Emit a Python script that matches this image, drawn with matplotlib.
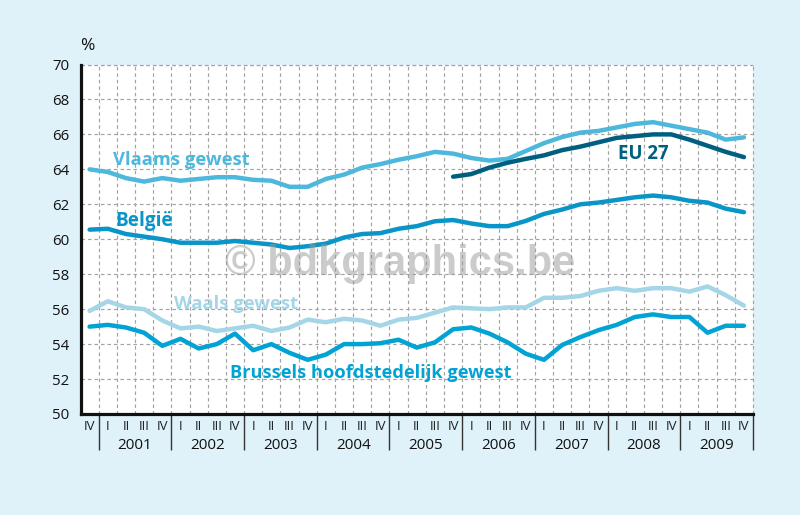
import numpy as np
import matplotlib.pyplot as plt

plt.rcParams['font.family'] = ['Open Sans', 'DejaVu Sans']

quarters = ['IV'] + ['I', 'II', 'III', 'IV'] * 9
years = ['2001', '2002', '2003', '2004', '2005', '2006', '2007', '2008', '2009']

vlaams = [64.0, 63.85, 63.5, 63.3, 63.5, 63.35, 63.45, 63.55, 63.55, 63.4, 63.35, 63.0, 63.0,
          63.45, 63.7, 64.1, 64.3, 64.55, 64.75, 65.0, 64.9, 64.65, 64.5, 64.6, 65.05, 65.5,
          65.85, 66.1, 66.2, 66.4, 66.6, 66.7, 66.5, 66.3, 66.1, 65.7, 65.83]
belgie = [60.55, 60.6, 60.3, 60.15, 60.0, 59.8, 59.8, 59.8, 59.9, 59.8, 59.7, 59.5, 59.6,
          59.75, 60.1, 60.3, 60.35, 60.6, 60.75, 61.03, 61.1, 60.9, 60.75, 60.75, 61.05, 61.45,
          61.7, 62.0, 62.1, 62.25, 62.4, 62.5, 62.4, 62.2, 62.1, 61.75, 61.55]
waals = [55.9, 56.45, 56.1, 56.0, 55.35, 54.9, 55.0, 54.75, 54.9, 55.05, 54.75, 54.95, 55.4,
         55.25, 55.45, 55.35, 55.05, 55.4, 55.5, 55.8, 56.1, 56.05, 56.0, 56.1, 56.1, 56.65,
         56.65, 56.75, 57.05, 57.2, 57.05, 57.2, 57.2, 57.0, 57.3, 56.8, 56.2]
brussel = [55.0, 55.1, 54.95, 54.65, 53.9, 54.3, 53.75, 54.0, 54.6, 53.65, 54.0, 53.5, 53.1,
           53.4, 54.0, 54.0, 54.05, 54.25, 53.8, 54.1, 54.85, 54.95, 54.6, 54.1, 53.45, 53.1,
           53.95, 54.4, 54.8, 55.1, 55.55, 55.7, 55.55, 55.55, 54.65, 55.05, 55.05]
eu27 = [63.58, 63.73, 64.1, 64.38, 64.6, 64.8, 65.1, 65.3, 65.55, 65.8, 65.9, 66.0, 66.0,
        65.7, 65.35, 65.0, 64.7]

bg = '#DFF1F9'
grid_color = '#A3A3A3'
dash = (0, (3, 2.5))
fig = plt.figure(figsize=(8, 5.15), dpi=100, facecolor=bg)
ax = fig.add_axes([80.5/800, 1-414/515, 672.5/800, 349.5/515], facecolor='white')

x = np.arange(len(quarters))
ax.plot(x, waals, color='#A5D6E7', lw=3.2, solid_capstyle='round', zorder=3)
ax.plot(x, vlaams, color='#4DB8DC', lw=3.2, solid_capstyle='round', zorder=3)
ax.plot(x, belgie, color='#0A95C9', lw=3.2, solid_capstyle='round', zorder=3)
ax.plot(x, brussel, color='#00A3D3', lw=3.2, solid_capstyle='round', zorder=3)
ax.plot(x[20:], eu27, color='#005F80', lw=3.2, solid_capstyle='round', zorder=4)

ax.set_xlim(-0.5, 36.5)
ax.set_ylim(50, 70)
ax.set_yticks(np.arange(50, 71, 2))
ax.set_xticks(x)
ax.set_xticklabels(quarters, fontsize=9.5, color='#222222')
ax.set_xticks(x[:-1] + 0.5, minor=True)
ax.tick_params(axis='x', which='major', length=0, pad=4)
ax.tick_params(axis='x', which='minor', length=0)
ax.tick_params(axis='y', length=0, pad=8, labelsize=10.8, labelcolor='#111111')
ax.grid(True, which='major', axis='y', color=grid_color, lw=0.85, ls=dash)
ax.grid(True, which='minor', axis='x', color=grid_color, lw=0.85, ls=dash)
ax.set_axisbelow(True)

for s in ['top', 'right']:
    ax.spines[s].set_visible(False)
for s in ['left', 'bottom']:
    ax.spines[s].set_linewidth(2.3)
    ax.spines[s].set_color('#111111')
    ax.spines[s].set_zorder(5)

# right and top edge are dashed like the grid
ax.axvline(36.5, color=grid_color, lw=0.85, ls=dash, clip_on=False)
ax.axhline(70, color=grid_color, lw=0.85, ls=dash, clip_on=False)

# year separators and labels under the quarters
trans = ax.get_xaxis_transform()
ax.vlines(np.arange(0.5, 37, 4), -0.103, 0, color='#333333', lw=1, transform=trans, clip_on=False)
for i, year in enumerate(years):
    ax.text(2.5 + 4*i, -0.09, year, transform=trans, ha='center', va='center',
            fontsize=11, color='#111111')

ax.text(-0.1, 71.05, '%', ha='center', va='center', fontsize=12.5, color='#111111')

ax.text(1.3, 64.55, 'Vlaams gewest', color='#4DB8DC', fontsize=13.2, fontweight='bold', va='center')
ax.text(1.4, 61.05, 'België', color='#0A95C9', fontsize=13.6, fontweight='bold', va='center')
ax.text(4.62, 56.3, 'Waals gewest', color='#A5D6E7', fontsize=13.2, fontweight='bold', va='center', zorder=4)
ax.text(7.75, 52.33, 'Brussels hoofdstedelijk gewest', color='#00A3D3', fontsize=13.15, fontweight='bold', va='center')
ax.text(29.05, 64.9, 'EU 27', color='#005F80', fontsize=13.4, fontweight='bold', va='center')

# watermark
fig.text(400/800, 1-264/515, '© bdkgraphics.be', ha='center', va='center', fontsize=30,
         fontweight='bold', family='Liberation Sans', color='#999999', alpha=0.5, zorder=10)

fig.savefig('out.png', dpi=100, facecolor=bg)
